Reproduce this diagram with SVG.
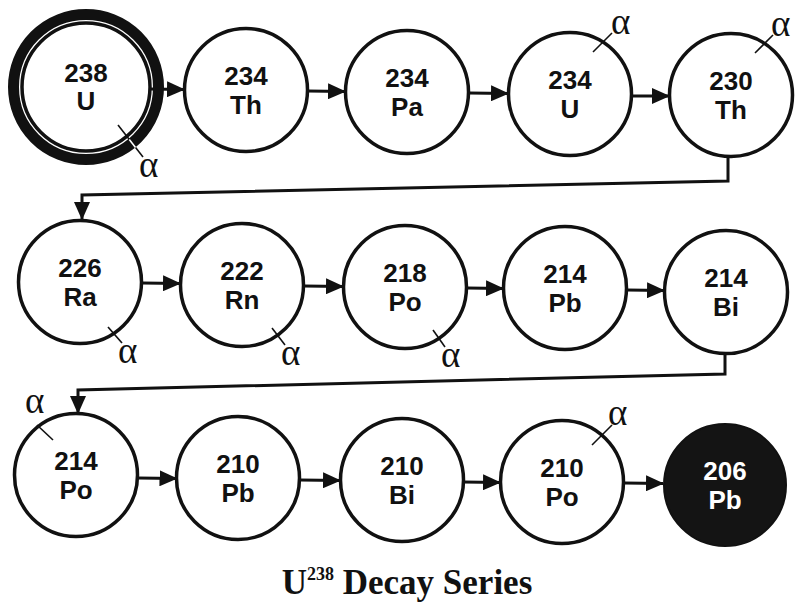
<svg xmlns="http://www.w3.org/2000/svg" width="796" height="609" viewBox="0 0 796 609">
<style>
.c{fill:#fff;stroke:#111;stroke-width:3.5}
.n{font-family:"Liberation Sans",Arial,sans-serif;font-weight:bold;font-size:26px;fill:#111;text-anchor:middle}
.w{fill:#fff}
.a{font-family:"Liberation Serif","Times New Roman",serif;font-size:37px;fill:#111}
.t{stroke:#111;stroke-width:1.6;fill:none}
.l{stroke:#111;stroke-width:3;fill:none}
.ttl{font-family:"Liberation Serif","Times New Roman",serif;font-weight:bold;font-size:35px;fill:#111;text-anchor:middle}
</style>
<defs>
<marker id="ah" markerUnits="userSpaceOnUse" markerWidth="18" markerHeight="16" refX="17" refY="8" orient="auto" viewBox="0 0 18 16">
<path d="M0,0 L18,8 L0,16 Z" fill="#111"/>
</marker>
</defs>
<rect width="796" height="609" fill="#fff"/>
<g id="connectors">
<line class="l" x1="150" y1="89" x2="184" y2="89.5" marker-end="url(#ah)"/>
<line class="l" x1="308" y1="91" x2="345" y2="91.5" marker-end="url(#ah)"/>
<line class="l" x1="469" y1="93" x2="508" y2="93.5" marker-end="url(#ah)"/>
<line class="l" x1="632" y1="96" x2="669" y2="96" marker-end="url(#ah)"/>
<polyline class="l" points="728,157 728,181 82,195 82,219" marker-end="url(#ah)"/>
<line class="l" x1="142" y1="283" x2="180" y2="283.5" marker-end="url(#ah)"/>
<line class="l" x1="304" y1="286" x2="343" y2="286.5" marker-end="url(#ah)"/>
<line class="l" x1="467" y1="288" x2="503" y2="288.5" marker-end="url(#ah)"/>
<line class="l" x1="627" y1="290" x2="664" y2="290.5" marker-end="url(#ah)"/>
<polyline class="l" points="725,354 725,374 78,390 78,413" marker-end="url(#ah)"/>
<line class="l" x1="138" y1="478" x2="176.5" y2="478.5" marker-end="url(#ah)"/>
<line class="l" x1="300" y1="480" x2="340" y2="480.5" marker-end="url(#ah)"/>
<line class="l" x1="463" y1="482" x2="500" y2="482.5" marker-end="url(#ah)"/>
<line class="l" x1="624" y1="483" x2="663" y2="483.5" marker-end="url(#ah)"/>
</g>
<g id="n-u238">
<circle cx="86" cy="87" r="72.5" fill="none" stroke="#111" stroke-width="11"/>
<circle class="c" cx="86" cy="87" r="64" stroke-width="3"/>
<text class="n" x="86" y="82">238</text><text class="n" x="86" y="110">U</text>
<line class="t" x1="118" y1="125" x2="143" y2="157"/>
<line x1="129.3" y1="139.4" x2="135.5" y2="147.4" stroke="#fff" stroke-width="1.6"/>
<text class="a" x="139" y="177">α</text>
</g>
<g id="n-th234"><circle class="c" cx="246" cy="90" r="61.5"/><text class="n" x="246" y="85">234</text><text class="n" x="246" y="114">Th</text></g>
<g id="n-pa234"><circle class="c" cx="407" cy="92" r="61.5"/><text class="n" x="407" y="87">234</text><text class="n" x="407" y="116">Pa</text></g>
<g id="n-u234"><circle class="c" cx="570" cy="94" r="61.5"/><text class="n" x="570" y="89">234</text><text class="n" x="570" y="118">U</text>
<line class="t" x1="593" y1="52" x2="612" y2="33"/><text class="a" x="611" y="34">α</text></g>
<g id="n-th230"><circle class="c" cx="731" cy="95" r="61.5"/><text class="n" x="731" y="90">230</text><text class="n" x="731" y="119">Th</text>
<line class="t" x1="755" y1="53" x2="773" y2="35"/><text class="a" x="771" y="36">α</text></g>
<g id="n-ra226"><circle class="c" cx="80" cy="282" r="61.5"/><text class="n" x="80" y="277">226</text><text class="n" x="80" y="306">Ra</text>
<line class="t" x1="108" y1="327" x2="122" y2="343"/><text class="a" x="118" y="363">α</text></g>
<g id="n-rn222"><circle class="c" cx="242" cy="285" r="61.5"/><text class="n" x="242" y="280">222</text><text class="n" x="242" y="309">Rn</text>
<line class="t" x1="272" y1="328" x2="285" y2="345"/><text class="a" x="281" y="365">α</text></g>
<g id="n-po218"><circle class="c" cx="405" cy="287" r="61.5"/><text class="n" x="405" y="282">218</text><text class="n" x="405" y="311">Po</text>
<line class="t" x1="433" y1="330" x2="445" y2="347"/><text class="a" x="441" y="367">α</text></g>
<g id="n-pb214"><circle class="c" cx="565" cy="288" r="61.5"/><text class="n" x="565" y="283">214</text><text class="n" x="565" y="312">Pb</text></g>
<g id="n-bi214"><circle class="c" cx="726" cy="292" r="61.5"/><text class="n" x="726" y="287">214</text><text class="n" x="726" y="316">Bi</text></g>
<g id="n-po214"><circle class="c" cx="76" cy="475" r="61.5"/><text class="n" x="76" y="470">214</text><text class="n" x="76" y="499">Po</text>
<line class="t" x1="37" y1="425" x2="53" y2="440"/><text class="a" x="25" y="413">α</text></g>
<g id="n-pb210"><circle class="c" cx="238" cy="478" r="61.5"/><text class="n" x="238" y="473">210</text><text class="n" x="238" y="502">Pb</text></g>
<g id="n-bi210"><circle class="c" cx="402" cy="480" r="61.5"/><text class="n" x="402" y="475">210</text><text class="n" x="402" y="504">Bi</text></g>
<g id="n-po210"><circle class="c" cx="562" cy="482" r="61.5"/><text class="n" x="562" y="477">210</text><text class="n" x="562" y="506">Po</text>
<line class="t" x1="592" y1="445" x2="612" y2="425"/><text class="a" x="608" y="425">α</text></g>
<g id="n-pb206"><circle cx="725" cy="485" r="61" fill="#141414" stroke="#111" stroke-width="2"/><text class="n w" x="725" y="480">206</text><text class="n w" x="725" y="509">Pb</text></g>
<text class="ttl" x="407" y="594">U<tspan font-size="18" dy="-14">238</tspan><tspan dy="14"> Decay Series</tspan></text>
</svg>
